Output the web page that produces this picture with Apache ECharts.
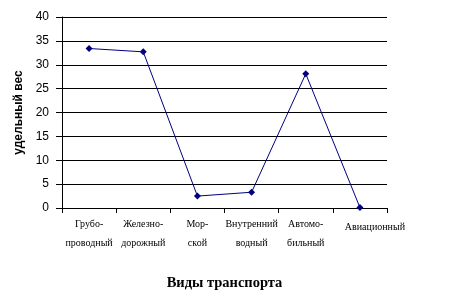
<!DOCTYPE html>
<html><head><meta charset="utf-8">
<script src="https://cdn.jsdelivr.net/npm/echarts@6/dist/echarts.min.js"></script>
<style>html,body{margin:0;padding:0;background:#fff}#c{width:452px;height:302px}</style>
</head><body><div id="c"></div>
<script>
const categories = ["Грубо-\nпроводный", "Железно-\nдорожный", "Мор-\nской", "Внутренний\nводный", "Автомо-\nбильный", "Авиационный"];
const values = [33.4, 32.7, 2.5, 3.3, 28.1, 0.1];
const yTicks = {min: 0, max: 40, interval: 5};
const xTitle = "Виды транспорта";
const yTitle = "удельный вес";

const chart = echarts.init(document.getElementById('c'), null, {renderer: 'canvas'});
chart.setOption({
  animation: false,
  backgroundColor: '#fff',
  grid: {left: 62, right: 65, top: 17, bottom: 94},
  xAxis: {
    type: 'category',
    data: categories,
    boundaryGap: true,
    name: xTitle,
    nameLocation: 'middle',
    nameGap: 68,
    nameTextStyle: {fontFamily: 'Liberation Serif', fontWeight: 'bold', fontSize: 14.5, color: '#000'},
    axisLine: {lineStyle: {color: '#000', width: 1}},
    axisTick: {show: true, length: 5, lineStyle: {color: '#000'}},
    axisLabel: {
      interval: 0,
      color: '#000',
      fontFamily: 'Liberation Serif',
      fontSize: 10,
      lineHeight: 19,
      margin: 7,
      formatter: function (v, i) {
        return v.indexOf('\n') < 0 ? '{s|' + v + '}' : v;
      },
      rich: {s: {fontFamily: 'Liberation Serif', fontSize: 10, color: '#000', padding: [6, 0, 0, 30]}}
    }
  },
  yAxis: {
    type: 'value',
    min: yTicks.min, max: yTicks.max, interval: yTicks.interval,
    name: yTitle,
    nameLocation: 'middle',
    nameGap: 36,
    nameRotate: 90,
    nameTextStyle: {fontFamily: 'Liberation Sans', fontWeight: 'bold', fontSize: 12, color: '#000'},
    axisLine: {show: true, lineStyle: {color: '#000', width: 1}},
    axisTick: {show: true, length: 6, lineStyle: {color: '#000'}},
    axisLabel: {color: '#000', fontFamily: 'Liberation Sans', fontSize: 12, margin: 13},
    splitLine: {show: true, lineStyle: {color: '#000', width: 1}}
  },
  series: [{
    type: 'line',
    data: values,
    symbol: 'diamond',
    symbolSize: 7,
    lineStyle: {color: '#000080', width: 1},
    itemStyle: {color: '#000080'}
  }]
});
</script>
</body></html>
